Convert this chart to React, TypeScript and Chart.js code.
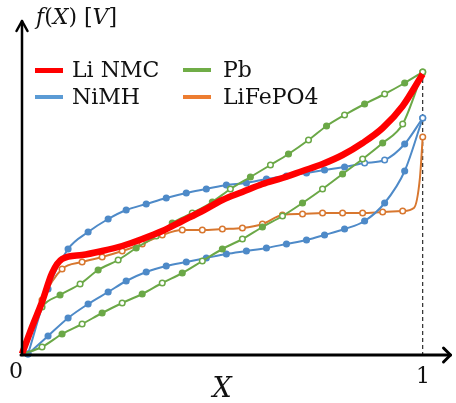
import React, { useEffect, useRef } from 'react';
import { Chart, registerables } from 'chart.js';
Chart.register(...registerables);

// ---- data (X = state variable 0..1, arbitrary voltage units) ----
const LI_NMC_X = [0, 0.025, 0.05, 0.075, 0.1, 0.15, 0.2, 0.25, 0.3, 0.35, 0.4, 0.45, 0.5, 0.55, 0.6, 0.65, 0.7, 0.75, 0.8, 0.85, 0.9, 0.95, 1];
const LI_NMC_Y = [0, 27, 52, 81, 95, 99, 103, 108, 115, 123, 133, 143, 154, 162, 170, 176, 183, 190, 199, 211, 226, 248, 280];

const PB_UP_X = [0, 0.027, 0.05, 0.095, 0.145, 0.19, 0.24, 0.285, 0.335, 0.375, 0.425, 0.475, 0.52, 0.57, 0.62, 0.665, 0.715, 0.76, 0.805, 0.855, 0.905, 0.955, 1];
const PB_UP_Y = [0, 26, 47, 59, 70, 84, 94, 106, 118, 131, 141, 152, 165, 177, 189, 200, 214, 228, 239, 250, 260, 271, 282];
const PB_UP_MARK = [0, 0, 1, 1, 1, 1, 1, 1, 1, 1, 1, 1, 1, 1, 1, 1, 1, 1, 1, 1, 1, 1, 1];

const PB_DOWN_X = [0, 0.05, 0.1, 0.15, 0.2, 0.25, 0.3, 0.35, 0.4, 0.45, 0.5, 0.55, 0.6, 0.65, 0.7, 0.75, 0.8, 0.85, 0.9, 0.95, 1];
const PB_DOWN_Y = [0, 7, 20, 30, 41, 51, 60, 71, 81, 93, 105, 115, 127, 138, 151, 165, 180, 195, 211, 230, 282];

const NIMH_X = [0.015, 0.065, 0.115, 0.165, 0.215, 0.26, 0.31, 0.36, 0.41, 0.46, 0.51, 0.56, 0.61, 0.66, 0.71, 0.755, 0.805, 0.855, 0.905, 0.955, 1];
const NIMH_UP_Y = [0, 65, 105, 122, 135, 144, 150, 156, 161, 165, 169, 171, 175, 178, 181, 184, 187, 191, 194, 210, 236];
const NIMH_DOWN_Y = [0, 18, 36, 50, 62, 73, 82, 88, 92, 96, 100, 103, 106, 110, 114, 119, 125, 133, 151, 183, 236];

const LIFEPO4_X = [0, 0.05, 0.1, 0.15, 0.2, 0.25, 0.3, 0.35, 0.4, 0.45, 0.5, 0.55, 0.6, 0.65, 0.7, 0.75, 0.8, 0.85, 0.9, 0.95, 0.978, 0.993, 1];
const LIFEPO4_Y = [0, 54, 85, 92, 97, 103, 110, 119, 124, 124, 125, 126, 130, 139, 140, 141, 141, 141, 142, 143, 146, 176, 217];
const LIFEPO4_MARK = [1, 1, 1, 1, 1, 1, 1, 1, 1, 1, 1, 1, 1, 1, 1, 1, 1, 1, 1, 1, 0, 0, 1];

const SERIES_LABELS = ['Li NMC', 'Pb', 'NiMH', 'LiFePO4'];
const X_TICK_LABELS = ['0', '1'];
const X_TICK_VALUES = [0, 1];
const X_TITLE = 'X';

// ---- styles ----
const RED = '#FF0000';
const GREEN = '#6BA847';
const BLUE = '#4E8AC8';
const ORANGE = '#D8772F';
const LEGEND_COLORS = ['#FF0000', '#70AD47', '#5B9BD5', '#ED7D31'];
const SERIF = '"DejaVu Serif", serif';

const pts = (xs: number[], ys: number[]) => xs.map((x, i) => ({ x, y: ys[i] }));

const axesPlugin = {
  id: 'axesArrows',
  beforeDatasetsDraw(chart: any) {
    const { ctx, scales } = chart;
    const x1 = scales.x.getPixelForValue(1);
    ctx.save();
    ctx.strokeStyle = '#000';
    ctx.lineWidth = 1;
    ctx.setLineDash([4, 3]);
    ctx.beginPath();
    ctx.moveTo(x1, scales.y.getPixelForValue(PB_UP_Y[PB_UP_Y.length - 1]));
    ctx.lineTo(x1, scales.y.getPixelForValue(0));
    ctx.stroke();
    ctx.restore();
  },
  afterDatasetsDraw(chart: any) {
    const { ctx, chartArea, scales } = chart;
    const x0 = scales.x.getPixelForValue(0);
    const y0 = scales.y.getPixelForValue(0) + 1;
    ctx.save();
    ctx.strokeStyle = '#000';
    ctx.lineCap = 'round';
    ctx.lineJoin = 'round';
    // y axis
    ctx.lineWidth = 2.5;
    ctx.beginPath();
    ctx.moveTo(x0, y0);
    ctx.lineTo(x0, chartArea.top + 1);
    ctx.stroke();
    ctx.beginPath();
    ctx.moveTo(x0 - 5.5, chartArea.top + 11);
    ctx.lineTo(x0, chartArea.top + 1);
    ctx.lineTo(x0 + 5.5, chartArea.top + 11);
    ctx.stroke();
    // x axis
    ctx.lineWidth = 3;
    const xr = chartArea.right;
    ctx.beginPath();
    ctx.moveTo(x0 - 1, y0);
    ctx.lineTo(xr, y0);
    ctx.stroke();
    ctx.beginPath();
    ctx.moveTo(xr - 7, y0 - 7);
    ctx.lineTo(xr, y0);
    ctx.lineTo(xr - 7, y0 + 7);
    ctx.stroke();
    ctx.restore();
  },
};

export default function App() {
  const ref = useRef<HTMLCanvasElement | null>(null);

  useEffect(() => {
    if (!ref.current) return;
    const markerDs = (
      label: string,
      xs: number[],
      ys: number[],
      color: string,
      fill: (i: number) => boolean,
      show: (i: number) => boolean
    ) => ({
      label,
      data: pts(xs, ys),
      showLine: true,
      borderColor: color,
      borderWidth: 2,
      pointRadius: (c: any) => (show(c.dataIndex) ? 2.8 : 0),
      pointBorderWidth: 1.5,
      pointBorderColor: color,
      pointBackgroundColor: (c: any) => (fill(c.dataIndex) ? color : '#ffffff'),
      cubicInterpolationMode: 'monotone',
      order: 1,
    });

    const chart = new Chart(ref.current, {
      type: 'scatter',
      data: {
        datasets: [
          {
            label: SERIES_LABELS[0],
            data: pts(LI_NMC_X, LI_NMC_Y),
            showLine: true,
            borderColor: RED,
            borderWidth: 6.5,
            pointRadius: 0,
            cubicInterpolationMode: 'monotone',
            order: 0,
          } as any,
          markerDs(SERIES_LABELS[1], PB_UP_X, PB_UP_Y, GREEN, (i) => i % 2 === 1, (i) => PB_UP_MARK[i] === 1),
          markerDs(SERIES_LABELS[1], PB_DOWN_X, PB_DOWN_Y, GREEN, (i) => i % 2 === 0, (i) => i > 0),
          markerDs(SERIES_LABELS[2], NIMH_X, NIMH_UP_Y, BLUE, (i) => i < 17 || i === 19, () => true),
          markerDs(SERIES_LABELS[2], NIMH_X, NIMH_DOWN_Y, BLUE, () => true, () => true),
          markerDs(SERIES_LABELS[3], LIFEPO4_X, LIFEPO4_Y, ORANGE, () => false, (i) => i > 0 && LIFEPO4_MARK[i] === 1),
        ],
      },
      options: {
        responsive: false,
        animation: false,
        clip: false as any,
        layout: { padding: { left: 22, right: 2, top: 20, bottom: 49 } },
        scales: {
          x: { type: 'linear', min: 0, max: 432 / 404, display: false },
          y: { type: 'linear', min: 0, max: 334, display: false },
        },
        plugins: {
          legend: { display: false },
          tooltip: { enabled: false },
          title: { display: false },
        },
      },
      plugins: [axesPlugin],
    });
    return () => chart.destroy();
  }, []);

  const legendPos = [
    { sx: 35, tx: 72, y: 70 },
    { sx: 183, tx: 223, y: 70 },
    { sx: 35, tx: 72, y: 97 },
    { sx: 183, tx: 223, y: 97 },
  ];
  // legend order in picture: Li NMC, Pb (row 1), NiMH, LiFePO4 (row 2)
  const legendIdx = [0, 1, 2, 3];

  const centered = (x: number, y: number): React.CSSProperties => ({
    position: 'absolute',
    left: x,
    top: y,
    transform: 'translate(-50%, -50%)',
    lineHeight: 1,
    whiteSpace: 'nowrap',
  });

  const xTickPx = [16, 423];

  return (
    <div style={{ position: 'absolute', left: 0, top: 0, width: 456, height: 403, background: '#fff', fontFamily: SERIF, color: '#111' }}>
      <canvas ref={ref} width={456} height={403} style={{ position: 'absolute', left: 0, top: 0 }} />
      <div style={{ position: 'absolute', left: 36, top: 17, transform: 'translateY(-50%)', fontSize: 22, lineHeight: 1, whiteSpace: 'nowrap' }}>
        <i>f</i>(<i>X</i>) [<i>V</i>]
      </div>
      {legendIdx.map((k, n) => (
        <React.Fragment key={k}>
          <div
            style={{
              position: 'absolute',
              left: legendPos[n].sx,
              top: legendPos[n].y - (k === 0 ? 2.5 : 2),
              width: 28,
              height: k === 0 ? 5 : 4,
              background: LEGEND_COLORS[k],
            }}
          />
          <div style={{ position: 'absolute', left: legendPos[n].tx, top: legendPos[n].y, transform: 'translateY(-50%)', fontSize: 22, lineHeight: 1, whiteSpace: 'nowrap' }}>
            {SERIES_LABELS[k]}
          </div>
        </React.Fragment>
      ))}
      {X_TICK_LABELS.map((t, i) => (
        <div key={t} style={{ ...centered(xTickPx[i], i === 0 ? 371 : 376), fontSize: 22 }} data-value={X_TICK_VALUES[i]}>
          {t}
        </div>
      ))}
      <div style={{ ...centered(222, 387), fontSize: 27, fontStyle: 'italic' }}>{X_TITLE}</div>
    </div>
  );
}
